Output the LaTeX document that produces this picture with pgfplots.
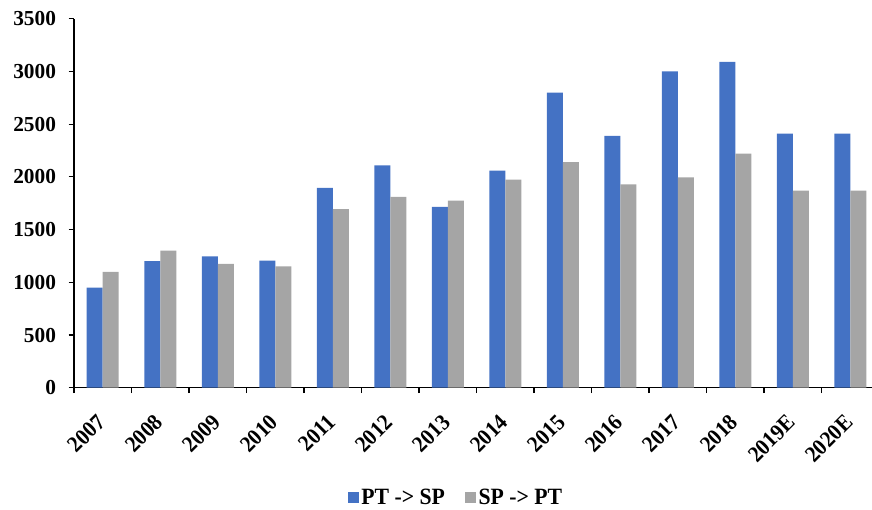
\documentclass[border=0pt]{standalone}
\usepackage{fontspec}
\setmainfont{Liberation Serif}
\newfontfamily\condfont[FakeStretch=0.93]{Liberation Serif}
\usepackage{pgfplots}
\pgfplotsset{compat=1.18}
\definecolor{cblue}{HTML}{4472C4}
\definecolor{cgray}{HTML}{A5A5A5}
\begin{document}
\begin{tikzpicture}
\path[use as bounding box] (-55.5pt,-91.7pt) rectangle (598.5pt,290.8pt);
\begin{axis}[
  at={(0,0)}, anchor=south west,
  scale only axis,
  width=598.5pt, height=276.75pt,
  ybar=0pt, bar width=12pt,
  xmin=-0.5, xmax=13.378,
  ymin=0, ymax=3500,
  ytick={0,500,...,3500},
  xtick={0,...,13},
  xticklabels={2007,2008,2009,2010,2011,2012,2013,2014,2015,2016,2017,2018,2019E,2020E},
  minor xtick={-0.5,0.5,...,12.5},
  major x tick style={draw=none},
  tick align=outside,
  major tick length=4pt,
  minor tick length=4pt,
  tick style={black, line width=0.9pt},
  axis x line*=bottom, axis y line*=left,
  axis line style={black, line width=1.1pt},
  /pgf/number format/assume math mode=true,
  /pgf/number format/set thousands separator={},
  yticklabel style={font=\bfseries\fontsize{16}{16}\selectfont, xshift=-6pt},
  xticklabel style={font=\condfont\bfseries\fontsize{17}{17}\selectfont, xshift=-5pt, yshift=-10pt, rotate=45, anchor=north east},
  legend style={at={(0.479,-0.298)}, anchor=center, draw=none, fill=none,
    legend columns=2, font=\condfont\bfseries\fontsize{17.5}{17.5}\selectfont,
    /tikz/every even column/.append style={column sep=13pt}},
  legend image code/.code={\fill[#1] (0pt,-4.1pt) rectangle (8.25pt,4.15pt);},
]
\addplot[fill=cblue, draw=none] coordinates {
(0,950) (1,1200) (2,1245) (3,1205) (4,1895) (5,2110) (6,1715) (7,2060) (8,2800) (9,2390) (10,3000) (11,3090) (12,2410) (13,2410)};
\addplot[fill=cgray, draw=none] coordinates {
(0,1100) (1,1300) (2,1175) (3,1150) (4,1695) (5,1810) (6,1775) (7,1975) (8,2140) (9,1930) (10,1995) (11,2220) (12,1870) (13,1870)};
\legend{PT -> SP, SP -> PT}
\end{axis}
\end{tikzpicture}
\end{document}
